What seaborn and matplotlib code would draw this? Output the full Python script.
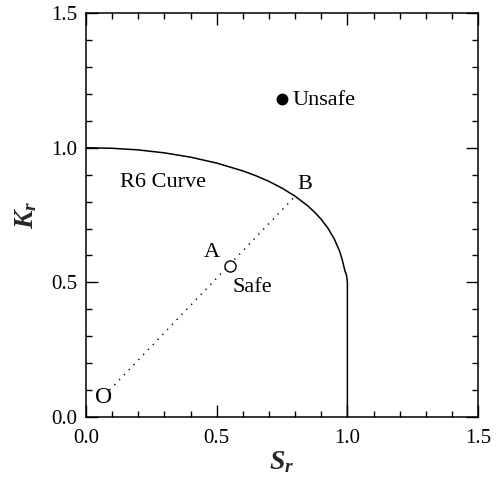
import matplotlib
matplotlib.use("Agg")
import matplotlib.pyplot as plt
import seaborn as sns
import pandas as pd
from matplotlib.ticker import MultipleLocator

# ---- data ----
curve_sr = [0.0, 0.1, 0.2, 0.3, 0.4, 0.5, 0.6, 0.65, 0.7, 0.75, 0.8, 0.85, 0.875,
            0.9, 0.925, 0.95, 0.97, 0.98, 0.99, 0.997, 1.0, 1.0]
curve_kr = [1.0, 0.998, 0.992, 0.981, 0.965, 0.943, 0.914, 0.896, 0.875, 0.850, 0.820,
            0.783, 0.760, 0.734, 0.702, 0.661, 0.616, 0.585, 0.545, 0.525, 0.50, 0.0]
load_sr = [0.09, 0.80]
load_kr = [0.10, 0.82]
pt_a = (0.55, 0.56)
pt_unsafe = (0.75, 1.18)
labels = {"R6 Curve": (0.13, 0.87), "B": (0.807, 0.865), "A": (0.45, 0.61),
          "Safe": (0.56, 0.48), "O": (0.035, 0.072), "Unsafe": (0.79, 1.175)}
ticks = [0.0, 0.5, 1.0, 1.5]
tick_labels = ["0.0", "0.5", "1.0", "1.5"]

sns.set_theme(style="ticks")
plt.rcParams["font.family"] = ["Liberation Serif", "DejaVu Serif"]
plt.rcParams["mathtext.fontset"] = "custom"
plt.rcParams["mathtext.it"] = "Liberation Serif:italic:bold"
plt.rcParams["mathtext.rm"] = "Liberation Serif:bold"
plt.rcParams["mathtext.bf"] = "Liberation Serif:bold"

fig = plt.figure(figsize=(4.98, 4.86), dpi=100)
ax = fig.add_axes([0.1727, 0.142, 0.7873, 0.831])

df_curve = pd.DataFrame({"Sr": curve_sr, "Kr": curve_kr})
sns.lineplot(data=df_curve, x="Sr", y="Kr", sort=False, estimator=None,
             color="black", lw=1.1, ax=ax)
df_load = pd.DataFrame({"Sr": load_sr, "Kr": load_kr})
sns.lineplot(data=df_load, x="Sr", y="Kr", sort=False, estimator=None,
             color="black", lw=1.0, linestyle=(0, (1, 4)), ax=ax)

ax.plot([pt_a[0]], [pt_a[1]], "o", mfc="white", mec="black", ms=8, mew=1.0, zorder=5)
ax.plot([pt_unsafe[0]], [pt_unsafe[1]], "o", mfc="black", mec="black", ms=7.5, zorder=5)

for txt, (x, y) in labels.items():
    fs = 17 if txt == "O" else 16
    ax.text(x, y, txt, fontsize=fs, ha="left", va="center", color="black")

ax.set_xlim(0, 1.5)
ax.set_ylim(0, 1.5)
ax.set_xticks(ticks)
ax.set_xticklabels(tick_labels)
ax.set_yticks(ticks)
ax.set_yticklabels(tick_labels)
ax.xaxis.set_minor_locator(MultipleLocator(0.1))
ax.yaxis.set_minor_locator(MultipleLocator(0.1))
ax.tick_params(which="both", direction="in", top=True, right=True, color="black",
               width=1.0)
ax.tick_params(which="major", length=8.5, labelsize=15, labelcolor="black")
ax.tick_params(which="minor", length=4.5)
ax.tick_params(axis="x", which="major", pad=9)
ax.tick_params(axis="y", which="major", pad=6)
for s in ax.spines.values():
    s.set_visible(True)
    s.set_color("black")
    s.set_linewidth(1.1)

ax.set_xlabel(r"$S_r$", fontsize=20)
ax.set_ylabel(r"$K_r$", fontsize=20)
ax.xaxis.set_label_coords(0.5, -0.08)
ax.yaxis.set_label_coords(-0.12, 0.5)

fig.savefig("out.png", dpi=100)
